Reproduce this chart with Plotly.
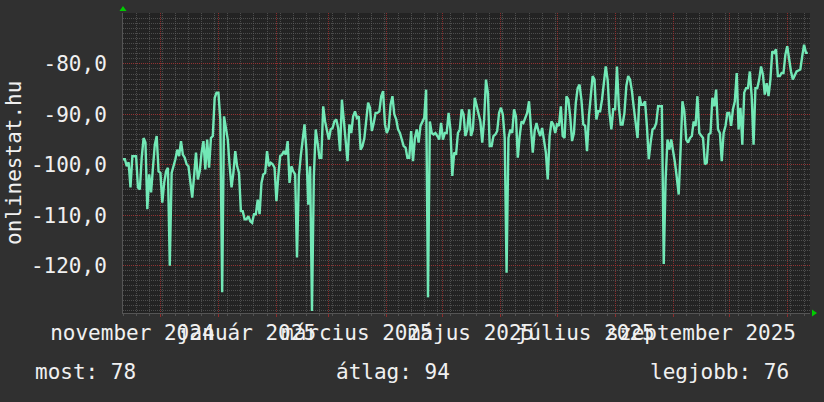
import pandas as pd
import plotly.graph_objects as go

start_date = "2024-11-11"
values = [
    -98.9, -98.9, -100.3, -99.5, -104.5, -98.3, -98.3, -98.3, -104.5, -104.9,
    -98.6, -94.7, -95.6, -108.8, -101.9, -105.5, -100.6, -96.0, -94.3, -101.3,
    -101.6, -107.5, -103.6, -101.3, -100.6, -120.0, -101.6, -100.3, -98.9, -97.0,
    -98.3, -95.3, -98.0, -98.6, -99.9, -100.3, -103.6, -106.5, -102.2, -97.6,
    -102.9, -101.3, -97.6, -95.3, -100.9, -95.0, -100.6, -94.7, -94.3, -86.7,
    -85.7, -85.7, -91.0, -125.3, -90.4, -93.0, -95.0, -100.3, -104.5, -101.6,
    -97.3, -100.3, -101.6, -109.2, -109.2, -110.8, -110.8, -110.2, -111.2, -111.5,
    -109.8, -109.8, -106.9, -109.8, -103.6, -101.9, -101.6, -97.3, -100.3, -99.6,
    -99.9, -100.6, -107.2, -102.2, -98.3, -98.0, -97.3, -98.0, -95.3, -103.6,
    -100.3, -101.3, -101.9, -118.4, -102.2, -98.3, -95.0, -92.0, -97.0, -107.9,
    -100.3, -129.0, -102.2, -93.0, -95.6, -98.6, -98.6, -88.4, -91.4, -93.0,
    -95.0, -93.0, -92.7, -91.4, -91.0, -92.7, -97.3, -87.1, -91.0, -94.3,
    -99.3, -92.0, -93.7, -90.4, -89.4, -90.7, -90.4, -97.0, -96.3, -94.7,
    -90.4, -87.7, -88.7, -93.3, -91.7, -89.7, -89.7, -89.4, -86.4, -85.4,
    -92.0, -93.7, -92.7, -88.1, -86.4, -90.0, -91.0, -93.0, -93.7, -95.0,
    -96.3, -96.6, -98.6, -98.6, -93.3, -99.3, -94.7, -93.0, -95.6, -92.3,
    -91.4, -90.7, -85.1, -126.3, -91.4, -93.7, -94.0, -93.7, -94.3, -95.0,
    -91.7, -95.0, -93.7, -93.7, -89.7, -93.0, -102.2, -97.6, -98.0, -93.7,
    -93.0, -89.0, -90.0, -94.3, -93.0, -89.0, -94.3, -93.0, -86.7, -88.1,
    -90.0, -91.4, -95.6, -91.0, -83.1, -85.7, -96.3, -96.3, -94.3, -94.0,
    -93.3, -89.7, -88.7, -90.0, -94.7, -121.4, -94.7, -93.0, -93.7, -89.0,
    -90.4, -98.6, -94.3, -91.4, -91.7, -90.7, -89.7, -87.4, -93.0, -97.6,
    -93.3, -91.7, -93.3, -94.3, -92.7, -95.6, -97.6, -102.9, -94.3, -91.4,
    -92.0, -93.7, -92.0, -92.3, -88.4, -94.3, -94.7, -86.4, -87.1, -90.4,
    -95.3, -93.7, -87.7, -84.8, -84.1, -87.1, -92.0, -92.3, -97.3, -90.4,
    -86.4, -82.4, -83.1, -91.0, -89.4, -89.4, -87.1, -84.1, -80.5, -83.1,
    -89.7, -93.0, -89.0, -89.0, -80.5, -88.4, -92.0, -92.0, -89.7, -84.4,
    -82.4, -83.1, -85.4, -88.7, -92.3, -94.7, -86.4, -88.1, -88.1, -87.4,
    -92.3, -98.9, -95.6, -93.0, -92.7, -91.7, -88.4, -88.4, -88.4, -119.7,
    -102.9, -95.0, -97.0, -95.0, -97.0, -99.6, -102.6, -105.9, -97.0, -87.4,
    -89.4, -95.0, -95.6, -94.7, -94.3, -91.4, -92.3, -86.4, -93.7, -94.3,
    -94.7, -99.9, -99.6, -94.0, -93.7, -86.7, -88.4, -85.1, -93.0, -93.7,
    -99.3, -93.7, -92.3, -89.7, -89.7, -92.3, -89.0, -87.4, -81.8, -93.0,
    -88.7, -96.0, -85.7, -84.8, -84.8, -81.5, -86.4, -96.0, -84.8, -84.8,
    -83.1, -80.5, -82.1, -86.1, -83.8, -86.4, -83.1, -77.5, -77.8, -77.1,
    -82.4, -82.4, -81.8, -81.8, -78.2, -76.5, -79.1, -81.5, -83.1, -82.4,
    -81.5, -81.3, -81.1, -78.5, -76.2, -77.8, -77.8,
]
x_range = ["2024-11-11", "2025-11-13 04:00"]
y_range = [-129.4, -69.9]
y_ticks = [-120, -110, -100, -90, -80]
y_ticktext = ["-120,0", "-110,0", "-100,0", "-90,0", "-80,0"]
month_labels = ["november 2024", "január 2025", "március 2025",
                "május 2025", "július 2025", "szeptember 2025"]
month_label_dates = ["2024-11-16", "2025-01-16", "2025-03-16",
                     "2025-05-16", "2025-07-16", "2025-09-16"]
y_title = "onlinestat.hu"
legend_texts = ["most: 78", "átlag: 94", "legjobb: 76"]

dates = pd.date_range(start_date, periods=len(values), freq="D")

FONT = "DejaVu Sans Mono"
TXT = "#f0f0f0"
RED = "rgba(165,45,45,0.8)"
GRAY = "rgba(100,100,100,0.65)"

fig = go.Figure()
fig.add_trace(go.Scatter(x=dates, y=values, mode="lines",
                         line=dict(color="#72e8b6", width=2.4),
                         showlegend=False, hoverinfo="skip"))
fig.add_trace(go.Scatter(x=[], y=[], xaxis="x2", showlegend=False))

fig.update_layout(
    width=824, height=402,
    margin=dict(l=123, r=14, t=13, b=89),
    paper_bgcolor="#303030", plot_bgcolor="#232323",
    font=dict(family=FONT, size=21, color=TXT),
    showlegend=False,
    xaxis=dict(
        type="date", range=x_range,
        tick0="2024-12-01", dtick="M1",
        showticklabels=False,
        showgrid=True, gridcolor=RED, griddash="1px,1px", gridwidth=1,
        ticks="outside", ticklen=3, tickcolor=RED,
        showline=True, linecolor="#555555", linewidth=1,
        zeroline=False,
        minor=dict(tick0="2024-11-11", dtick=7 * 86400000,
                   showgrid=True, gridcolor=GRAY, griddash="1px,1px",
                   gridwidth=1, ticks="outside", ticklen=2, tickcolor=GRAY),
    ),
    xaxis2=dict(
        type="date", range=x_range, overlaying="x", side="bottom",
        anchor="y",
        tickvals=month_label_dates, ticktext=month_labels,
        tickangle=0, showgrid=False, ticks="", ticklabelstandoff=5,
        showline=False, zeroline=False,
        tickfont=dict(family=FONT, size=21, color=TXT),
    ),
    yaxis=dict(
        range=y_range, tickvals=y_ticks, ticktext=y_ticktext,
        showgrid=True, gridcolor=RED, griddash="1px,1px", gridwidth=1,
        ticks="", ticklabelstandoff=11, zeroline=False,
        showline=True, linecolor="#555555", linewidth=1,
        tickfont=dict(family=FONT, size=21, color=TXT),
        minor=dict(dtick=1, tick0=0, showgrid=True, gridcolor=GRAY,
                   griddash="1px,1px", gridwidth=1),
    ),
)

# y-axis title
fig.add_annotation(text=y_title, xref="paper", yref="paper",
                   x=(14 - 123) / 687, y=0.5, textangle=-90,
                   showarrow=False, xanchor="center", yanchor="middle",
                   font=dict(family=FONT, size=21, color=TXT))

# legend line
leg_y = -(372 - 313) / 300
fig.add_annotation(text=legend_texts[0], xref="paper", yref="paper",
                   x=(33 - 123) / 687, y=leg_y, xanchor="left", yanchor="middle",
                   showarrow=False, font=dict(family=FONT, size=21, color=TXT))
fig.add_annotation(text=legend_texts[1], xref="paper", yref="paper",
                   x=(334 - 123) / 687, y=leg_y, xanchor="left", yanchor="middle",
                   showarrow=False, font=dict(family=FONT, size=21, color=TXT))
fig.add_annotation(text=legend_texts[2], xref="paper", yref="paper",
                   x=(791 - 123) / 687, y=leg_y, xanchor="right", yanchor="middle",
                   showarrow=False, font=dict(family=FONT, size=21, color=TXT))

# axis arrows
pw, ph = 687.0, 300.0
def px(dx):
    return dx / pw
def py(dy):
    return dy / ph
up = f"M {px(-3.5)} {1 + py(2)} L {px(3.5)} {1 + py(2)} L 0 {1 + py(7)} Z"
right = f"M {1 + px(2)} {py(3.5)} L {1 + px(2)} {py(-3.5)} L {1 + px(7)} 0 Z"
for p in (up, right):
    fig.add_shape(type="path", path=p, xref="paper", yref="paper",
                  fillcolor="#00cc00", line=dict(color="#00cc00", width=0))

fig.write_html("out.html",
               config={"displayModeBar": False},
               post_script="document.body.style.margin='0';"
                           "document.body.style.background='#303030';")
